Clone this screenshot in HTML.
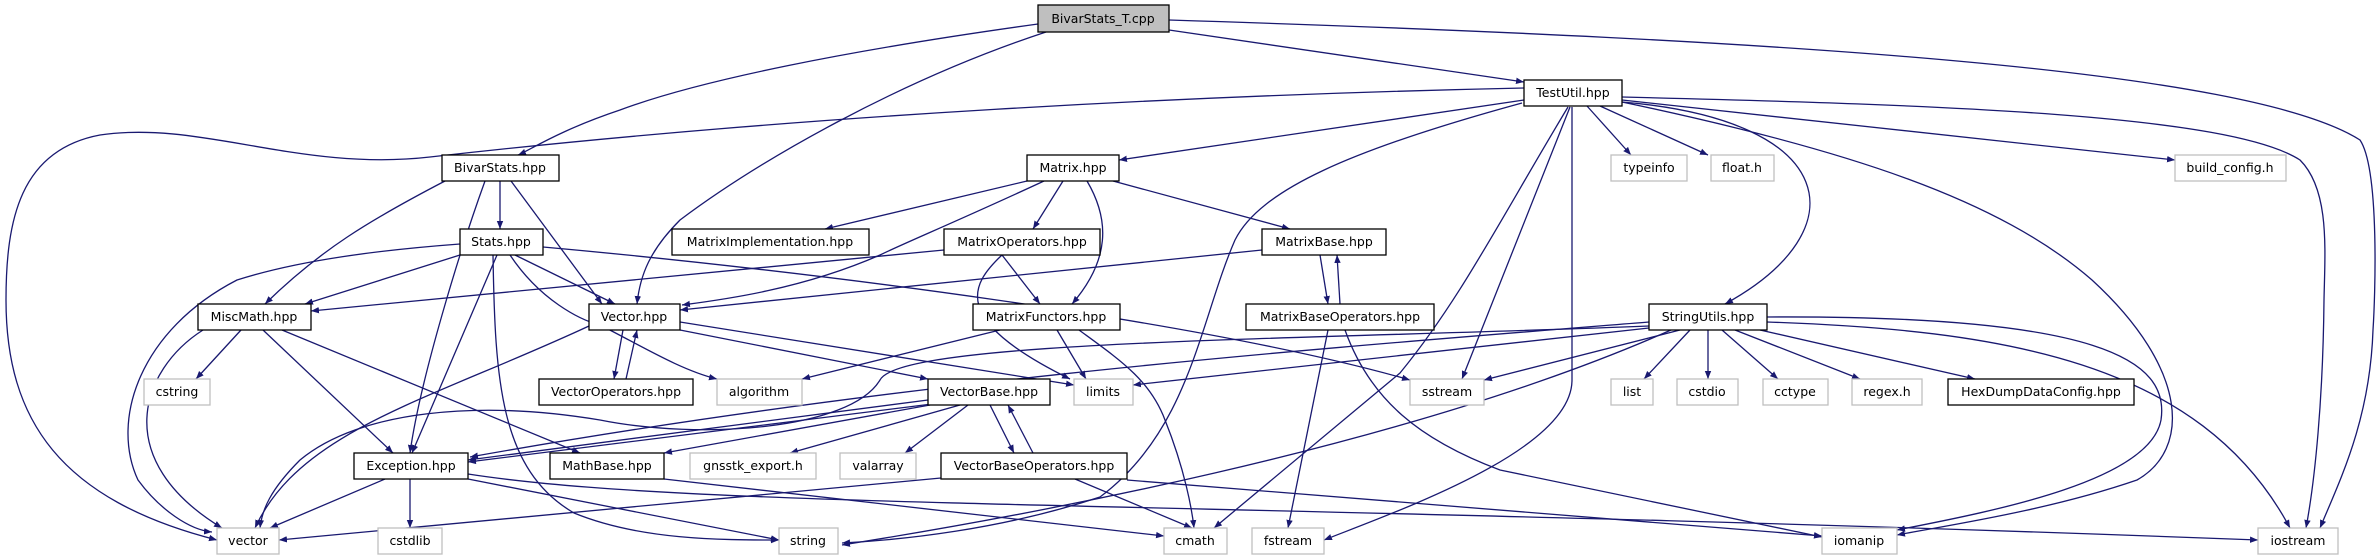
<!DOCTYPE html>
<html><head><meta charset="utf-8"><style>
body{margin:0;background:#fff}
svg{display:block}
text{font-family:"DejaVu Sans","Liberation Sans",sans-serif;font-size:12.5px;fill:#000;text-anchor:middle}
.e{fill:none;stroke:#191970;stroke-width:1.3}
.n{fill:#fff;stroke:#000;stroke-width:1.3}
.g{fill:#fff;stroke:#bfbfbf;stroke-width:1.3}
</style></head><body>
<svg width="2380" height="560" viewBox="0 0 2380 560" xmlns="http://www.w3.org/2000/svg">
<defs><marker id="a" viewBox="0 0 10 10" refX="10" refY="5" markerWidth="8" markerHeight="8" orient="auto-start-reverse" markerUnits="userSpaceOnUse"><path d="M0,1 L10,5 L0,9 z" fill="#191970"/></marker></defs>
<g class="e" marker-end="url(#a)">
<path d="M1038,24 C850,50 700,80 620,110 C560,130 530,150 518,155"/>
<path d="M1046,32 C900,80 760,160 680,220 C650,250 640,275 637,304"/>
<path d="M1169,30 L1524,82"/>
<path d="M1169,20 C1800,40 2250,70 2360,140 C2380,170 2375,300 2373,330 C2370,420 2340,480 2320,528"/>
<path d="M1524,88 C1200,95 800,115 430,157 C300,172 200,120 100,135 C20,150 6,220 6,300 C6,420 60,500 217,540"/>
<path d="M1524,100 L1119,160"/>
<path d="M1522,103 C1350,150 1260,190 1235,240 C1200,320 1190,430 1100,497 C1000,530 900,540 842,543"/>
<path d="M1568,107 C1500,220 1460,300 1400,373 L1214,528"/>
<path d="M1570,107 L1462,379"/>
<path d="M1572,107 L1572,380 C1572,450 1400,510 1324,540"/>
<path d="M1587,106 L1631,155"/>
<path d="M1600,106 L1708,155"/>
<path d="M1622,102 C1840,120 1860,230 1725,304"/>
<path d="M1622,102 C1850,150 2000,200 2092,280 C2190,370 2190,450 2137,480 C2050,510 1950,525 1897,535"/>
<path d="M1622,100 L2175,160"/>
<path d="M1622,97 C1950,105 2230,115 2300,160 C2330,190 2325,250 2324,300 C2323,400 2315,480 2306,528"/>
<path d="M500,181 L500,229"/>
<path d="M445,181 C370,220 320,250 265,304"/>
<path d="M485,181 C460,250 420,380 410,453"/>
<path d="M511,181 L602,304"/>
<path d="M460,255 L305,304"/>
<path d="M460,244 C380,250 300,260 237,280 C140,330 110,420 138,480 C160,510 190,530 212,532"/>
<path d="M497,255 L412,453"/>
<path d="M493,255 C495,380 500,470 574,513 C640,540 720,540 779,540"/>
<path d="M515,255 L615,304"/>
<path d="M510,255 C540,300 580,320 600,325 C640,345 680,370 717,379"/>
<path d="M543,247 C800,270 1200,320 1410,380"/>
<path d="M1027,181 L825,229"/>
<path d="M1063,181 L1033,229"/>
<path d="M1044,181 C960,220 900,245 880,255 C800,290 720,300 682,305"/>
<path d="M1087,181 C1110,220 1110,260 1072,304"/>
<path d="M1113,181 L1290,229"/>
<path d="M944,250 L311,311"/>
<path d="M1002,255 L1040,304"/>
<path d="M1002,255 C970,285 950,320 1070,379"/>
<path d="M1262,250 L680,310"/>
<path d="M1320,255 L1328,304"/>
<path d="M1340,304 L1337,255"/>
<path d="M1328,330 L1288,528"/>
<path d="M1345,330 C1370,400 1420,440 1500,470 L1822,537"/>
<path d="M1000,330 L802,379"/>
<path d="M1057,330 L1086,379"/>
<path d="M1079,330 C1120,360 1150,380 1165,420 C1185,470 1192,510 1194,528"/>
<path d="M241,330 L196,379"/>
<path d="M203,330 C140,370 110,460 222,528"/>
<path d="M263,330 L393,453"/>
<path d="M282,330 L580,453"/>
<path d="M623,330 L614,379"/>
<path d="M626,379 L637,330"/>
<path d="M589,326 C430,400 300,430 255,528"/>
<path d="M680,330 L928,379"/>
<path d="M680,322 L1074,385"/>
<path d="M1649,322 C1300,350 900,380 470,457"/>
<path d="M1649,326 C1300,340 900,340 880,380 C850,430 700,440 600,420 C480,400 360,410 300,460 C270,490 262,510 260,528"/>
<path d="M1649,328 L1133,385"/>
<path d="M1680,330 L1484,380"/>
<path d="M1671,330 C1400,450 1000,520 842,545"/>
<path d="M1690,330 L1644,379"/>
<path d="M1708,330 L1708,379"/>
<path d="M1722,330 L1778,379"/>
<path d="M1735,330 L1860,379"/>
<path d="M1760,330 L1975,379"/>
<path d="M1767,317 C2100,315 2170,360 2161,420 C2150,480 2000,510 1897,530"/>
<path d="M1767,322 C2000,330 2200,360 2290,528"/>
<path d="M928,400 L468,460"/>
<path d="M932,404 L468,462"/>
<path d="M930,405 L664,453"/>
<path d="M960,405 L790,453"/>
<path d="M968,405 L905,453"/>
<path d="M990,405 L1014,453"/>
<path d="M1033,453 L1008,405"/>
<path d="M941,478 L279,540"/>
<path d="M1075,479 L1192,528"/>
<path d="M1127,480 L1822,536"/>
<path d="M385,479 L270,528"/>
<path d="M410,479 L410,528"/>
<path d="M468,479 L779,540"/>
<path d="M468,474 C700,510 1200,500 2258,540"/>
<path d="M664,479 L1164,536"/>
</g>
<rect x="1038" y="5" width="131" height="27" fill="#bfbfbf" stroke="#000" stroke-width="1.3"/><text x="1103" y="23">BivarStats_T.cpp</text>
<g>
<rect class="n" x="1524" y="80" width="98" height="26"/><text x="1573" y="97">TestUtil.hpp</text>
<rect class="n" x="442" y="155" width="117" height="26"/><text x="500" y="172">BivarStats.hpp</text>
<rect class="n" x="1027" y="155" width="92" height="26"/><text x="1073" y="172">Matrix.hpp</text>
<rect class="g" x="1611" y="155" width="76" height="26"/><text x="1649" y="172">typeinfo</text>
<rect class="g" x="1711" y="155" width="63" height="26"/><text x="1742" y="172">float.h</text>
<rect class="g" x="2175" y="155" width="111" height="26"/><text x="2230" y="172">build_config.h</text>
<rect class="n" x="460" y="229" width="83" height="26"/><text x="501" y="246">Stats.hpp</text>
<rect class="n" x="672" y="229" width="197" height="26"/><text x="770" y="246">MatrixImplementation.hpp</text>
<rect class="n" x="944" y="229" width="156" height="26"/><text x="1022" y="246">MatrixOperators.hpp</text>
<rect class="n" x="1262" y="229" width="124" height="26"/><text x="1324" y="246">MatrixBase.hpp</text>
<rect class="n" x="198" y="304" width="113" height="26"/><text x="254" y="321">MiscMath.hpp</text>
<rect class="n" x="589" y="304" width="91" height="26"/><text x="634" y="321">Vector.hpp</text>
<rect class="n" x="973" y="304" width="147" height="26"/><text x="1046" y="321">MatrixFunctors.hpp</text>
<rect class="n" x="1246" y="304" width="188" height="26"/><text x="1340" y="321">MatrixBaseOperators.hpp</text>
<rect class="n" x="1649" y="304" width="118" height="26"/><text x="1708" y="321">StringUtils.hpp</text>
<rect class="g" x="144" y="379" width="66" height="26"/><text x="177" y="396">cstring</text>
<rect class="n" x="539" y="379" width="154" height="26"/><text x="616" y="396">VectorOperators.hpp</text>
<rect class="g" x="717" y="379" width="85" height="26"/><text x="759" y="396">algorithm</text>
<rect class="n" x="928" y="379" width="122" height="26"/><text x="989" y="396">VectorBase.hpp</text>
<rect class="g" x="1074" y="379" width="59" height="26"/><text x="1103" y="396">limits</text>
<rect class="g" x="1410" y="379" width="74" height="26"/><text x="1447" y="396">sstream</text>
<rect class="g" x="1611" y="379" width="42" height="26"/><text x="1632" y="396">list</text>
<rect class="g" x="1677" y="379" width="61" height="26"/><text x="1707" y="396">cstdio</text>
<rect class="g" x="1763" y="379" width="65" height="26"/><text x="1795" y="396">cctype</text>
<rect class="g" x="1852" y="379" width="70" height="26"/><text x="1887" y="396">regex.h</text>
<rect class="n" x="1948" y="379" width="186" height="26"/><text x="2041" y="396">HexDumpDataConfig.hpp</text>
<rect class="n" x="354" y="453" width="114" height="26"/><text x="411" y="470">Exception.hpp</text>
<rect class="n" x="550" y="453" width="114" height="26"/><text x="607" y="470">MathBase.hpp</text>
<rect class="g" x="690" y="453" width="126" height="26"/><text x="753" y="470">gnsstk_export.h</text>
<rect class="g" x="840" y="453" width="76" height="26"/><text x="878" y="470">valarray</text>
<rect class="n" x="941" y="453" width="186" height="26"/><text x="1034" y="470">VectorBaseOperators.hpp</text>
<rect class="g" x="217" y="528" width="62" height="26"/><text x="248" y="545">vector</text>
<rect class="g" x="378" y="528" width="64" height="26"/><text x="410" y="545">cstdlib</text>
<rect class="g" x="779" y="528" width="59" height="26"/><text x="808" y="545">string</text>
<rect class="g" x="1164" y="528" width="63" height="26"/><text x="1195" y="545">cmath</text>
<rect class="g" x="1252" y="528" width="72" height="26"/><text x="1288" y="545">fstream</text>
<rect class="g" x="1822" y="528" width="75" height="26"/><text x="1859" y="545">iomanip</text>
<rect class="g" x="2258" y="528" width="80" height="26"/><text x="2298" y="545">iostream</text>
</g>
</svg>
</body></html>
